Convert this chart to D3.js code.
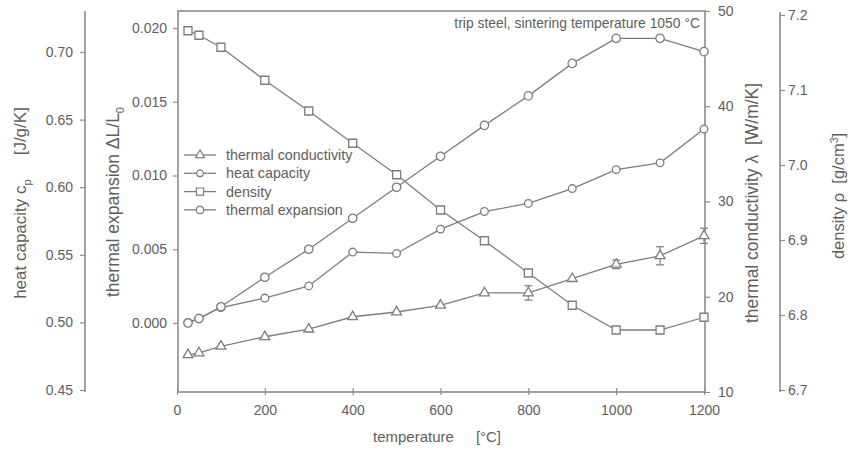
<!DOCTYPE html>
<html><head><meta charset="utf-8">
<script src="https://cdn.jsdelivr.net/npm/d3@7"></script>
<style>
body{margin:0;background:#fff;}
svg{font-family:"Liberation Sans",Arial,sans-serif;}
</style></head>
<body><svg id="c" width="851" height="457"></svg>
<script>
// ---- data ----
const temps = [25,50,100,200,300,400,500,600,700,800,900,1000,1100,1200];
const conductivity = [13.9,14.1,14.8,15.8,16.6,17.9,18.4,19.1,20.4,20.4,21.9,23.4,24.3,26.4];
const conductivityErr = [0,0,0,0,0,0,0,0,0,0.75,0,0.45,0.95,0.8];
const heatCapacity = [0.500,0.503,0.511,0.518,0.527,0.552,0.551,0.569,0.582,0.588,0.599,0.613,0.618,0.643];
const density = [7.179,7.173,7.157,7.113,7.072,7.029,6.987,6.940,6.899,6.856,6.813,6.780,6.780,6.797];
const expansion = [0.0000,0.0003,0.0011,0.0031,0.0050,0.0071,0.0092,0.0113,0.0134,0.0154,0.0176,0.0193,0.0193,0.0184];

const xTicks = [0,200,400,600,800,1000,1200];
const cpTicks = [0.45,0.50,0.55,0.60,0.65,0.70];
const expTicks = [0.000,0.005,0.010,0.015,0.020];
const condTicks = [10,20,30,40,50];
const densTicks = [6.7,6.8,6.9,7.0,7.1,7.2];
const legendNames = ["thermal conductivity","heat capacity","density","thermal expansion"];
const note = "trip steel, sintering temperature 1050 °C";

// ---- layout ----
const L = 178, R = 705, T = 11, B = 392;
const cpX = 85, densX = 780;
const lineCol = "#7d7d7d", axisCol = "#8c8c8c", textCol = "#5e5e5e";

const svg = d3.select("#c");

const x = d3.scaleLinear().domain([0,1200]).range([L-1, R-1]);
const yExp = d3.scaleLinear().domain([0,0.02]).range([323,28]);
const yCp = d3.scaleLinear().domain([0.45,0.70]).range([390,52]);
const yCond = d3.scaleLinear().domain([10,50]).range([B,T]);
const yDens = d3.scaleLinear().domain([6.7,7.2]).range([390,15]);

function styleAxis(g){
  g.select(".domain").remove();
  g.selectAll(".tick line").attr("stroke",axisCol).attr("stroke-width",1.2);
  g.selectAll(".tick text").attr("fill",textCol).attr("font-size",14)
    .attr("font-family","Liberation Sans, Arial, sans-serif");
}

// frame
svg.append("rect").attr("x",L).attr("y",T).attr("width",R-L).attr("height",B-T)
  .attr("fill","none").attr("stroke",axisCol).attr("stroke-width",1.6);

// x axis
const gx = svg.append("g").attr("transform",`translate(0,${B})`)
  .call(d3.axisBottom(x).tickValues(xTicks).tickFormat(d3.format("d")).tickSize(3).tickPadding(10));
styleAxis(gx);
gx.selectAll(".tick line").attr("y1",-4).attr("y2",3);

// thermal expansion axis (inner left)
const gExp = svg.append("g").attr("transform",`translate(${L},0)`)
  .call(d3.axisLeft(yExp).tickValues(expTicks).tickFormat(d3.format(".3f")).tickSize(5).tickPadding(6));
styleAxis(gExp);

// heat capacity axis (outer left)
svg.append("line").attr("x1",cpX).attr("x2",cpX).attr("y1",T).attr("y2",B)
  .attr("stroke",axisCol).attr("stroke-width",1.6);
const gCp = svg.append("g").attr("transform",`translate(${cpX},0)`)
  .call(d3.axisLeft(yCp).tickValues(cpTicks).tickFormat(d3.format(".2f")).tickSize(5).tickPadding(7));
styleAxis(gCp);

// thermal conductivity axis (inner right)
const gCond = svg.append("g").attr("transform",`translate(${R},0)`)
  .call(d3.axisRight(yCond).tickValues(condTicks).tickFormat(d3.format("d")).tickSize(5).tickPadding(8));
styleAxis(gCond);

// density axis (outer right)
svg.append("line").attr("x1",densX).attr("x2",densX).attr("y1",T+1).attr("y2",B)
  .attr("stroke",axisCol).attr("stroke-width",1.6);
const gDens = svg.append("g").attr("transform",`translate(${densX},0)`)
  .call(d3.axisRight(yDens).tickValues(densTicks).tickFormat(d3.format(".1f")).tickSize(5).tickPadding(3));
styleAxis(gDens);

// axis titles
function vTitle(cx, cy, fs, parts){
  const t = svg.append("text").attr("transform",`translate(${cx},${cy}) rotate(-90)`)
    .attr("text-anchor","middle").attr("fill",textCol).attr("font-size",fs)
    .attr("xml:space","preserve");
  parts.forEach(p=>{
    const s = t.append("tspan").text(p.t);
    if(p.dy) s.attr("dy",p.dy);
    if(p.dx) s.attr("dx",p.dx);
    if(p.fs) s.attr("font-size",p.fs);
  });
  return t;
}
vTitle(26, 203, 17, [{t:"heat capacity c"},{t:"p",dy:5,fs:11},{t:"[J/g/K]",dy:-5,dx:24}]);
vTitle(119, 202, 17.5, [{t:"thermal expansion ΔL/L"},{t:"0",dy:5,fs:11}]);
vTitle(758, 203, 17.5, [{t:"thermal conductivity λ  [W/m/K]"}]);
vTitle(844, 196, 16.5, [{t:"density ρ  [g/cm"},{t:"3",dy:-6,fs:10.5},{t:"]",dy:6}]);

const xt = svg.append("text").attr("x",373).attr("y",442)
  .attr("fill",textCol).attr("font-size",15);
xt.append("tspan").text("temperature");
xt.append("tspan").attr("dx",22).text("[°C]");

svg.append("text").attr("x",700).attr("y",28).attr("text-anchor","end")
  .attr("fill",textCol).attr("font-size",13.9).text(note);

// series
const series = [
  {name:legendNames[0], vals:conductivity, y:yCond, sym:d3.symbolTriangle, size:42},
  {name:legendNames[1], vals:heatCapacity, y:yCp, sym:d3.symbolCircle, size:46},
  {name:legendNames[2], vals:density, y:yDens, sym:d3.symbolSquare, size:64},
  {name:legendNames[3], vals:expansion, y:yExp, sym:d3.symbolCircle, size:56}
];

series.forEach(s=>{
  const line = d3.line().x((d,i)=>x(temps[i])).y(d=>s.y(d));
  svg.append("path").attr("d",line(s.vals)).attr("fill","none")
    .attr("stroke",lineCol).attr("stroke-width",1.3);
});

// error bars for conductivity
const eb = svg.append("g").attr("stroke",lineCol).attr("stroke-width",1.2);
temps.forEach((t,i)=>{
  const e = conductivityErr[i];
  if(!e) return;
  const cx = x(t), y1 = yCond(conductivity[i]-e), y2 = yCond(conductivity[i]+e);
  eb.append("line").attr("x1",cx).attr("x2",cx).attr("y1",y1).attr("y2",y2);
  eb.append("line").attr("x1",cx-4).attr("x2",cx+4).attr("y1",y1).attr("y2",y1);
  eb.append("line").attr("x1",cx-4).attr("x2",cx+4).attr("y1",y2).attr("y2",y2);
});

series.forEach(s=>{
  const sym = d3.symbol().type(s.sym).size(s.size);
  svg.append("g").selectAll("path").data(s.vals).join("path")
    .attr("d",sym).attr("transform",(d,i)=>`translate(${x(temps[i])},${s.y(d)})`)
    .attr("fill","#fff").attr("stroke",lineCol).attr("stroke-width",1.3);
});

// legend
const lg = svg.append("g");
series.forEach((s,i)=>{
  const cy = 155 + i*18.3;
  lg.append("line").attr("x1",184).attr("x2",216).attr("y1",cy).attr("y2",cy)
    .attr("stroke",lineCol).attr("stroke-width",1.3);
  lg.append("path").attr("d",d3.symbol().type(s.sym).size(s.size*0.8)())
    .attr("transform",`translate(200,${cy})`).attr("fill","#fff")
    .attr("stroke",lineCol).attr("stroke-width",1.2);
  lg.append("text").attr("x",226).attr("y",cy+5).attr("fill",textCol)
    .attr("font-size",14.3).text(s.name);
});
</script></body></html>
